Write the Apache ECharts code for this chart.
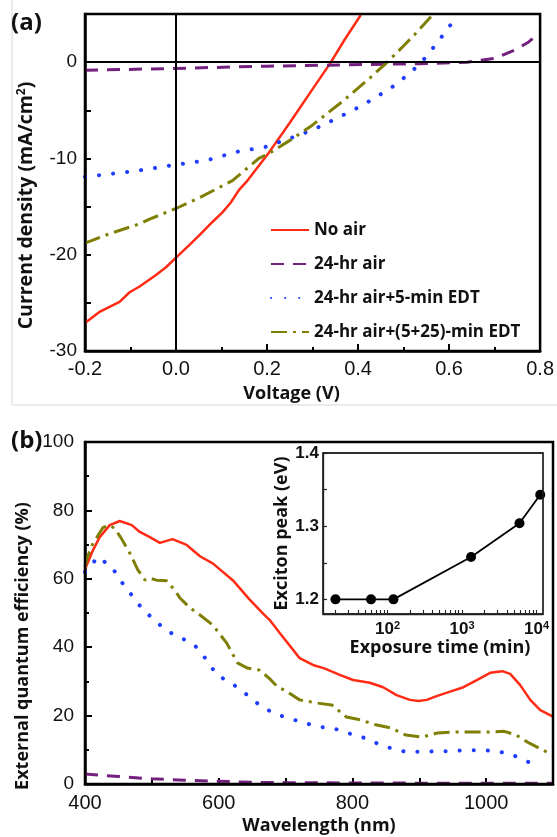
<!DOCTYPE html>
<html>
<head>
<meta charset="utf-8">
<script src="https://cdn.jsdelivr.net/npm/echarts@6/dist/echarts.min.js"></script>
<style>
  html, body { margin: 0; padding: 0; background: #fff; }
  #chart { width: 557px; height: 837px; }
</style>
</head>
<body>
<div id="chart"></div>
<script>
// series names and colours
var seriesNames = ['No air', '24-hr air', '24-hr air+5-min EDT', '24-hr air+(5+25)-min EDT'];
var seriesColors = ['#ff2b14', '#74207f', '#1f3dff', '#7f7f05'];

// (a) J-V curves, voltage (V) / current density (mA/cm2)
var voltNoAir = [-0.2, -0.167, -0.124, -0.102, -0.08, -0.044, -0.022, 0, 0.029, 0.051, 0.08, 0.102, 0.12, 0.138, 0.157, 0.204, 0.25, 0.3, 0.339, 0.37, 0.406];
var jNoAir = [-27.1, -25.9, -24.9, -23.9, -23.3, -22.1, -21.3, -20.3, -19.0, -18.0, -16.6, -15.6, -14.6, -13.3, -12.3, -9.4, -6.3, -2.8, -0.1, 2.3, 4.9];

var volt24hr = [-0.2, 0, 0.2, 0.42, 0.535, 0.64, 0.7, 0.746, 0.775, 0.8];
var j24hr = [-0.85, -0.65, -0.42, -0.24, -0.17, 0, 0.38, 1.3, 2.1, 3.1];

var volt5min = [-0.2, -0.095, 0, 0.067, 0.135, 0.197, 0.251, 0.3, 0.346, 0.409, 0.472, 0.503, 0.536, 0.562, 0.588, 0.61, 0.618];
var j5min = [-11.9, -11.35, -10.65, -10.2, -9.3, -8.8, -7.9, -7.05, -6.0, -4.5, -2.7, -1.55, -0.2, 1.3, 2.9, 4.3, 4.9];

var volt30min = [-0.2, -0.145, -0.08, -0.058, 0, 0.051, 0.124, 0.182, 0.204, 0.251, 0.298, 0.368, 0.427, 0.462, 0.495, 0.525, 0.558, 0.563];
var j30min = [-18.8, -17.8, -16.8, -16.3, -15.2, -14.1, -12.3, -10.0, -9.5, -8.1, -6.6, -4.0, -1.6, -0.1, 1.45, 2.9, 4.6, 4.9];

// (b) EQE spectra, wavelength (nm) / EQE (%)
var wlNoAir = [400, 412, 422, 437, 452, 470, 482, 497, 512, 531, 552, 572, 591, 621, 646, 666, 676, 691, 721, 741, 758, 781, 801, 826, 846, 866, 886, 899, 911, 926, 946, 966, 986, 1006, 1024, 1036, 1051, 1066, 1081, 1100];
var eqeNoAir = [62.8, 68.4, 72.2, 75.7, 76.9, 75.7, 73.7, 72.2, 70.5, 71.6, 69.9, 66.6, 64.5, 59.6, 54.0, 49.9, 48.0, 44.2, 36.8, 34.8, 33.8, 31.9, 30.4, 29.6, 28.3, 26.0, 24.6, 24.3, 24.6, 25.7, 27.0, 28.3, 30.4, 32.5, 33.0, 32.2, 28.9, 24.6, 21.6, 19.7];

var wl24hr = [400, 450, 500, 550, 600, 650, 700, 800, 900, 1000, 1100];
var eqe24hr = [2.9, 2.2, 1.5, 1.1, 0.8, 0.5, 0.4, 0.3, 0.25, 0.2, 0.2];

var wl5min = [400, 404, 419, 440, 455, 472, 487, 502, 522, 545, 564, 582, 597, 619, 639, 661, 681, 703, 725, 748, 770, 793, 815, 835, 857, 880, 903, 925, 948, 970, 993, 1015, 1036, 1057, 1079];
var eqe5min = [62, 62.6, 66.4, 63.5, 59.0, 54.7, 50.9, 48.3, 44.8, 42.6, 40.6, 36.3, 31.9, 29.5, 26.6, 23.1, 20.8, 19.3, 18.1, 16.7, 16.4, 14.9, 13.7, 12.0, 10.5, 9.4, 9.4, 9.6, 9.6, 9.9, 9.9, 9.6, 8.8, 7.0, 5.0];

var wl30min = [400, 403, 412, 418, 427, 437, 445, 455, 467, 479, 490, 497, 507, 522, 534, 542, 557, 572, 591, 612, 628, 643, 661, 676, 688, 698, 721, 746, 769, 791, 813, 835, 857, 880, 904, 927, 949, 975, 1000, 1027, 1045, 1064, 1094, 1100];
var eqe30min = [63.5, 66, 70.5, 72.2, 75.0, 75.7, 74.6, 71.6, 67.5, 62.6, 59.6, 60.2, 59.6, 59.4, 56.7, 54.4, 51.5, 49.4, 46.5, 41.2, 35.4, 33.9, 33.3, 30.8, 28.4, 27.5, 24.6, 23.7, 23.1, 19.6, 18.7, 17.3, 16.4, 14.3, 13.7, 14.9, 15.2, 15.2, 15.2, 15.4, 14.3, 12.0, 9.0, 8.6];

// inset: exposure time (min) / exciton peak (eV)
var exposureTime = [20, 60, 120, 1320, 5900, 11200];
var excitonPeak = [1.2, 1.2, 1.2, 1.258, 1.304, 1.343];

// axis ranges
var jvRange = { xMin: -0.2, xMax: 0.8, yMin: -30, yMax: 5 };
var eqeRange = { xMin: 400, xMax: 1100, yMin: 0, yMax: 100 };
var insetRange = { xMin: 13.6, xMax: 12200, yMin: 1.18, yMax: 1.4 };

// tick labels / positions
var jLabelValues = [-30, -20, -10, 0];
var jTickValues = [-30, -25, -20, -15, -10, -5, 0];
var insetYLabels = [1.2, 1.3, 1.4];
var insetYTicks = [1.2, 1.25, 1.3, 1.35, 1.4];
var insetXLabels = [100, 1000, 10000];
var insetXTicks = [20, 30, 40, 50, 60, 70, 80, 90, 100, 200, 300, 400, 500, 600, 700, 800, 900, 1000, 2000, 3000, 4000, 5000, 6000, 7000, 8000, 9000, 10000];

var tickFont = 'Liberation Sans';
var nameFont = 'Open Sans';

function pairs(xs, ys) {
  return xs.map(function (x, i) { return [x, ys[i]]; });
}

var lineStyles = [
  { width: 2.5, type: 'solid' },
  { width: 3, type: [13, 9] },
  { width: 4, type: [0.1, 14], cap: 'round' },
  { width: 3, type: [16, 6, 3, 6] }
];

function curve(i, xs, ys, grid) {
  var ls = Object.assign({ color: seriesColors[i] }, lineStyles[i]);
  return {
    name: seriesNames[i],
    type: 'line',
    xAxisIndex: grid,
    yAxisIndex: grid,
    data: pairs(xs, ys),
    showSymbol: false,
    symbol: 'none',
    color: seriesColors[i],
    lineStyle: ls,
    z: 3
  };
}

function axisBase() {
  return {
    type: 'value',
    axisLine: { show: true, onZero: false, lineStyle: { color: '#000', width: 2.5 } },
    axisTick: { show: true, inside: true, length: 7, lineStyle: { color: '#000', width: 2 } },
    minorTick: { show: false },
    splitLine: { show: false },
    axisLabel: { color: '#111', fontFamily: tickFont, fontSize: 19 },
    nameLocation: 'middle',
    nameTextStyle: { color: '#111', fontFamily: nameFont, fontWeight: 'bold', fontSize: 18 }
  };
}

var chart = echarts.init(document.getElementById('chart'));

var xA = axisBase();
Object.assign(xA, {
  gridIndex: 0, min: jvRange.xMin, max: jvRange.xMax, interval: 0.2,
  minorTick: { show: true, splitNumber: 2, length: 4, lineStyle: { color: '#000', width: 2 } },
  name: 'Voltage (V)', nameGap: 34
});
xA.axisLabel = { color: '#111', fontFamily: tickFont, fontSize: 20, margin: 8, formatter: function (v) { return v.toFixed(1); } };
xA.nameTextStyle = Object.assign({}, xA.nameTextStyle, { padding: [0, 42, 0, 0] });

var yA = axisBase();
Object.assign(yA, {
  gridIndex: 0, min: jvRange.yMin, max: jvRange.yMax,
  name: '{b|Current density }{b|(mA/cm}{s|2}{b|)}', nameGap: 48
});
yA.axisLabel = { color: '#111', fontFamily: tickFont, fontSize: 19, margin: 8, customValues: jLabelValues };
yA.axisTick = { show: true, inside: true, length: 6, lineStyle: { color: '#000', width: 2 }, customValues: jTickValues };
yA.nameTextStyle = {
  padding: [0, 46, 0, 0],
  rich: {
    b: { color: '#111', fontFamily: nameFont, fontWeight: 'bold', fontSize: 19.5 },
    s: { color: '#111', fontFamily: nameFont, fontWeight: 'bold', fontSize: 12, verticalAlign: 'bottom', padding: [0, 0, 9, 0] }
  }
};

var xB = axisBase();
Object.assign(xB, {
  gridIndex: 1, min: eqeRange.xMin, max: eqeRange.xMax, interval: 100,
  name: 'Wavelength (nm)', nameGap: 33
});
xB.axisTick = { show: true, inside: true, length: 6, lineStyle: { color: '#000', width: 2 } };
xB.axisLabel = { color: '#111', fontFamily: tickFont, fontSize: 20, margin: 9, formatter: function (v) { return v % 200 === 0 ? String(v) : ''; } };

var yB = axisBase();
Object.assign(yB, {
  gridIndex: 1, min: eqeRange.yMin, max: eqeRange.yMax, interval: 20,
  minorTick: { show: true, splitNumber: 2, length: 4, lineStyle: { color: '#000', width: 2 } },
  name: 'External quantum efficiency (%)', nameGap: 51
});
yB.axisLabel = { color: '#111', fontFamily: tickFont, fontSize: 19, margin: 11 };
yB.nameTextStyle = Object.assign({}, yB.nameTextStyle, { padding: [0, 66, 0, 0] });

var insetAxisLine = { show: true, onZero: false, lineStyle: { color: '#222', width: 1.3 } };

var xInset = {
  gridIndex: 2, type: 'log', min: insetRange.xMin, max: insetRange.xMax, position: 'bottom',
  axisLine: insetAxisLine,
  axisTick: { show: true, inside: true, length: 4, lineStyle: { color: '#222', width: 1.1 }, customValues: insetXTicks },
  splitLine: { show: false },
  axisLabel: {
    customValues: insetXLabels, margin: 6,
    formatter: function (v) { return '{b|10}{s|' + Math.round(Math.log10(v)) + '}'; },
    rich: {
      b: { color: '#111', fontFamily: tickFont, fontWeight: 'bold', fontSize: 17 },
      s: { color: '#111', fontFamily: tickFont, fontWeight: 'bold', fontSize: 11, verticalAlign: 'bottom', padding: [0, 0, 8, 0] }
    }
  },
  name: 'Exposure time (min)', nameLocation: 'middle', nameGap: 24,
  nameTextStyle: { color: '#111', fontFamily: nameFont, fontWeight: 'bold', fontSize: 18, padding: [0, 0, 0, 14] }
};

var yInset = {
  gridIndex: 2, type: 'value', min: insetRange.yMin, max: insetRange.yMax,
  axisLine: insetAxisLine,
  axisTick: { show: true, inside: true, length: 4, lineStyle: { color: '#222', width: 1.2 }, customValues: insetYTicks },
  splitLine: { show: false },
  axisLabel: {
    customValues: insetYLabels, margin: 4, color: '#111', fontFamily: tickFont, fontWeight: 'bold', fontSize: 17,
    formatter: function (v) { return v.toFixed(1); }
  },
  name: 'Exciton peak (eV)', nameLocation: 'middle', nameGap: 32,
  nameTextStyle: { color: '#111', fontFamily: nameFont, fontWeight: 'bold', fontSize: 18 }
};

var redJV = curve(0, voltNoAir, jNoAir, 0);
redJV.markLine = {
  silent: true, symbol: 'none', label: { show: false },
  lineStyle: { color: '#000', type: 'solid', width: 2 },
  data: [{ xAxis: 0 }, { yAxis: 0 }]
};

var bgLines = [
  { id: 'frameV', type: 'line', shape: { x1: 12, y1: 0, x2: 12, y2: 405 }, style: { stroke: '#e4e4e4', lineWidth: 1.5 }, z: -1 },
  { id: 'frameH', type: 'line', shape: { x1: 12, y1: 405, x2: 557, y2: 405 }, style: { stroke: '#e4e4e4', lineWidth: 1.5 }, z: -1 }
];

var option = {
  animation: false,
  backgroundColor: '#fff',
  title: [
    { text: '(a)', left: 11, top: 11, padding: 0, textStyle: { fontFamily: nameFont, fontWeight: 'bold', fontSize: 24, color: '#111' } },
    { text: '(b)', left: 11, top: 429, padding: 0, textStyle: { fontFamily: nameFont, fontWeight: 'bold', fontSize: 24, color: '#111' } }
  ],
  graphic: bgLines,
  legend: {
    data: seriesNames,
    orient: 'vertical',
    left: 265,
    top: 215,
    itemWidth: 38,
    itemHeight: 14,
    itemGap: 14,
    itemStyle: { color: 'rgba(0,0,0,0)', borderColor: 'rgba(0,0,0,0)', borderWidth: 0 },
    textStyle: { fontFamily: nameFont, fontWeight: 'bold', fontSize: 17, color: '#111', lineHeight: 20 }
  },
  grid: [
    { left: 85, top: 14, width: 458, height: 337 },
    { left: 85, top: 442, width: 468, height: 342 },
    { left: 323, top: 453, width: 220, height: 161, show: true, borderColor: '#222', borderWidth: 1.3, backgroundColor: '#fff' }
  ],
  xAxis: [xA, xB, xInset],
  yAxis: [yA, yB, yInset],
  series: [
    redJV,
    curve(1, volt24hr, j24hr, 0),
    curve(2, volt5min, j5min, 0),
    curve(3, volt30min, j30min, 0),
    curve(0, wlNoAir, eqeNoAir, 1),
    curve(1, wl24hr, eqe24hr, 1),
    curve(2, wl5min, eqe5min, 1),
    curve(3, wl30min, eqe30min, 1),
    {
      type: 'line',
      xAxisIndex: 2,
      yAxisIndex: 2,
      data: pairs(exposureTime, excitonPeak),
      symbol: 'circle',
      symbolSize: 10,
      color: '#000',
      lineStyle: { color: '#000', width: 1.8 },
      z: 4
    }
  ]
};

chart.setOption(option);

// plot frames: corners taken from each grid's axis scales after layout
function frameRect(id, gridIndex, r, width, color) {
  var tl = chart.convertToPixel({ gridIndex: gridIndex }, [r.xMin, r.yMax]);
  var br = chart.convertToPixel({ gridIndex: gridIndex }, [r.xMax, r.yMin]);
  return {
    id: id, type: 'rect', silent: true, z: 10,
    shape: { x: tl[0], y: tl[1], width: br[0] - tl[0], height: br[1] - tl[1] },
    style: { fill: 'none', stroke: color, lineWidth: width }
  };
}

chart.setOption({
  graphic: bgLines.concat([
    frameRect('boxA', 0, jvRange, 2.5, '#000'),
    frameRect('boxB', 1, eqeRange, 2.5, '#000'),
    frameRect('boxInset', 2, insetRange, 1.3, '#222')
  ])
});
</script>
</body>
</html>
